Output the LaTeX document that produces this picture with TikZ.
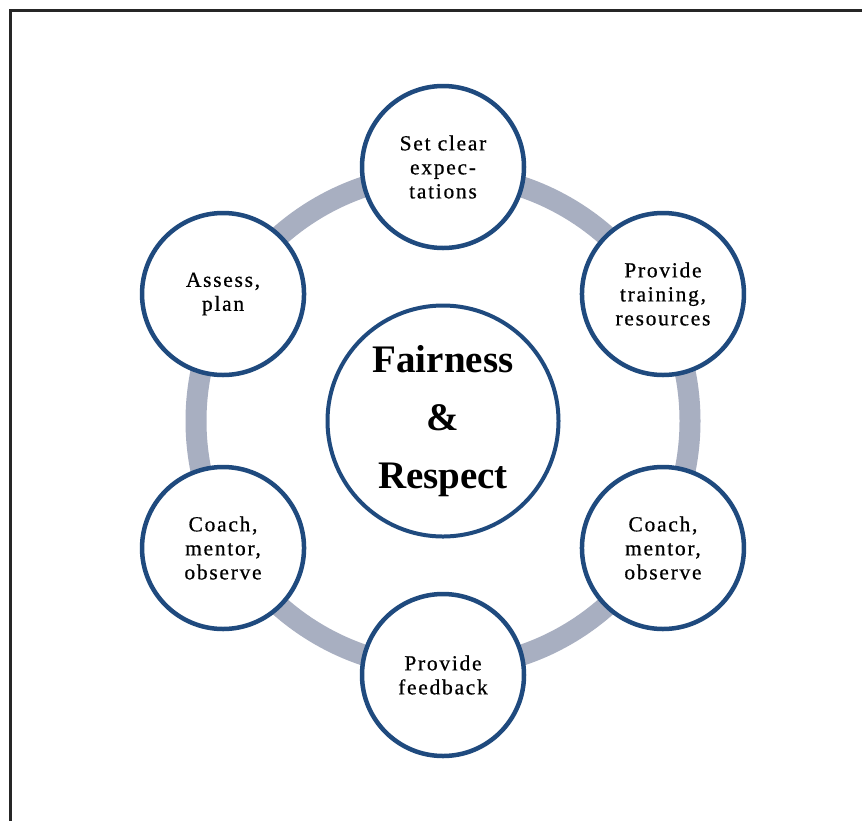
\documentclass[tikz,border=0pt]{standalone}
\usepackage{fontspec}
\setmainfont{Liberation Serif}
\newfontfamily\stagefont{Liberation Serif}[LetterSpace=8,FakeBold=0.6]
\usetikzlibrary{calc,positioning}
\definecolor{ringgray}{RGB}{168,175,193}
\definecolor{navy}{RGB}{31,74,126}

\begin{document}
\begin{tikzpicture}[x=1pt,y=1pt,
  stage/.style={circle,draw=navy,line width=4.5pt,fill=white,minimum size=162pt,inner sep=0pt,align=center,font=\stagefont\fontsize{21.5}{24}\selectfont},
  hubcircle/.style={circle,draw=navy,line width=4pt,fill=white,minimum size=231pt,inner sep=0pt,align=center,font=\fontsize{39}{58}\selectfont\bfseries}]
\clip (0,0) rectangle (862,-820);
\fill[white] (0,0) rectangle (862,-820);
% page frame, runs off the right and bottom
\draw[line width=3pt,black!85] (10.5,-10.5) rectangle (900,-900);

\coordinate (mid) at (443,-421);
% the ring behind the six stages
\draw[ringgray,line width=21pt] (mid) circle (247);
\node[hubcircle] (hub) at (mid) {Fairness\\\&\\Respect};

\node[stage] (expect) at ($(mid)+(90:254)$) {Set clear\\expec-\\tations};
\node[stage] (train) at ($(mid)+(30:254)$) {Provide\\training,\\resources};
\node[stage] (coachR) at ($(mid)+(-30:254)$) {Coach,\\mentor,\\observe};
\node[stage] (feedback) at ($(mid)+(-90:254)$) {Provide\\feedback};
\node[stage] (coachL) at ($(mid)+(210:254)$) {Coach,\\mentor,\\observe};
\node[stage] (assess) at ($(mid)+(150:254)$) {Assess,\\plan};
\end{tikzpicture}
\end{document}
